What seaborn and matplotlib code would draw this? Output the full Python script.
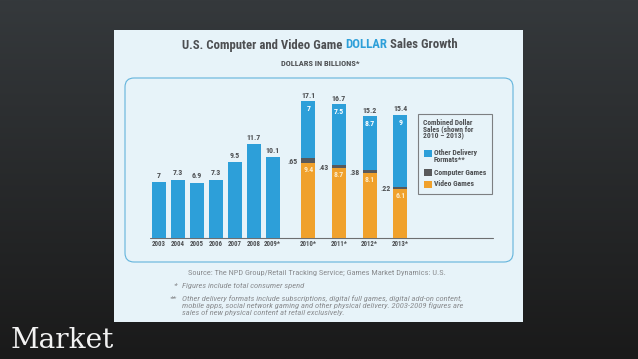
import numpy as np
import seaborn as sns
import matplotlib.pyplot as plt
from matplotlib.patches import Rectangle, FancyBboxPatch
from matplotlib.colors import LinearSegmentedColormap

# physical sales at retail, 2003-2009 (billions $)
years1 = ["2003", "2004", "2005", "2006", "2007", "2008", "2009*"]
sales1 = [7, 7.3, 6.9, 7.3, 9.5, 11.7, 10.1]

# combined sales 2010-2013
years2 = ["2010*", "2011*", "2012*", "2013*"]
video = [9.4, 8.7, 8.1, 6.1]
computer = [0.65, 0.43, 0.38, 0.22]
other = [7, 7.5, 8.7, 9]
totals = [17.1, 16.7, 15.2, 15.4]

BLUE = "#2d9fd9"
ORANGE = "#f0a12c"
GRAY = "#58595b"
TXT = "#4d4f52"
W, H = 638, 359

sns.set_theme(style="white")
cond = ["Roboto Condensed", "DejaVu Sans Condensed", "Liberation Sans Narrow", "Roboto", "DejaVu Sans"]
plt.rcParams["font.family"] = cond

fig = plt.figure(figsize=(W / 100, H / 100), dpi=100)
fig.patch.set_facecolor("#202020")
fig.canvas.draw()
r = fig.canvas.get_renderer()


def fit(t, width):
    # scale a text so it spans the given pixel width
    w = t.get_window_extent(r).width
    t.set_fontsize(t.get_fontsize() * width / w)
    return t


# background axes in pixel coords
bg = fig.add_axes([0, 0, 1, 1])
grad = np.linspace(0, 1, 256).reshape(-1, 1)
cmap = LinearSegmentedColormap.from_list("bgc", ["#35393c", "#1a1a1a"])
bg.imshow(grad, extent=[0, W, H, 0], cmap=cmap, aspect="auto", zorder=0)
bg.set_xlim(0, W)
bg.set_ylim(H, 0)
bg.axis("off")

bg.add_patch(Rectangle((114, 30), 409, 292, fc="#e7f3f9", ec="none", zorder=1))
bg.add_patch(FancyBboxPatch((125, 78), 388, 184, boxstyle="round,pad=0,rounding_size=9",
                            fc="none", ec="#62b4dc", lw=0.8, zorder=2))
bg.plot([150, 493], [238, 238], color="#6d6e70", lw=0.8, zorder=3)

# title in three pieces, sized to span the reference width
parts = [("U.S. Computer and Video Game ", TXT), ("DOLLAR", BLUE), (" Sales Growth", TXT)]
probe = fit(bg.text(0, 0, "".join(p for p, _ in parts), fontsize=12, fontweight="bold"), 275)
tsize = probe.get_fontsize()
probe.remove()
x = 182
for part, col in parts:
    t = bg.text(x, 45, part, color=col, fontsize=tsize, fontweight="bold", va="center",
                ha="left", zorder=4)
    x += t.get_window_extent(r).width
fit(bg.text(320, 63, "DOLLARS IN BILLIONS*", color=TXT, fontsize=5.5, fontweight="bold",
            ha="center", va="center", zorder=4), 78)


def px_axes(left, right, top=94, bottom=238):
    a = fig.add_axes([left / W, 1 - bottom / H, (right - left) / W, (bottom - top) / H])
    a.set_facecolor("none")
    return a


ax1 = px_axes(149.75, 282.05)
ax2 = px_axes(292.95, 415.75)

sns.barplot(x=years1, y=sales1, color=BLUE, saturation=1, width=0.74, linewidth=0,
            errorbar=None, ax=ax1)
# stacked: draw cumulative from back to front
sns.barplot(x=years2, y=totals, color=BLUE, saturation=1, width=0.456, linewidth=0,
            errorbar=None, ax=ax2)
sns.barplot(x=years2, y=np.add(video, computer), color=GRAY, saturation=1, width=0.456,
            linewidth=0, errorbar=None, ax=ax2)
sns.barplot(x=years2, y=video, color=ORANGE, saturation=1, width=0.456, linewidth=0,
            errorbar=None, ax=ax2)

LS = 5.7
for a in (ax1, ax2):
    a.set_ylim(0, 18)
    a.set_yticks([])
    a.set_xlabel("")
    a.set_ylabel("")
    sns.despine(ax=a, left=True, bottom=True)
    a.tick_params(axis="x", length=0, pad=1.3, labelsize=4.9, labelcolor=TXT)
    for lab in a.get_xticklabels():
        lab.set_fontweight("bold")

for i, v in enumerate(sales1):
    ax1.text(i, v + 0.85, f"{v:g}", ha="center", va="center", fontsize=LS,
             fontweight="bold", color=TXT)

for i in range(len(years2)):
    ax2.text(i, totals[i] + 0.75, f"{totals[i]:g}", ha="center", va="center", fontsize=LS,
             fontweight="bold", color=TXT)
    ax2.text(i, totals[i] - 0.95, f"{other[i]:g}", ha="center", va="center", fontsize=LS,
             fontweight="bold", color="white")
    ax2.text(i, video[i] - 0.8, f"{video[i]:g}", ha="center", va="center", fontsize=LS,
             fontweight="bold", color="#fcebc9")
    ax2.text(i - 0.33, video[i] + 0.1, f"{computer[i]:g}".lstrip("0"), ha="right",
             va="center", fontsize=LS, fontweight="bold", color=TXT)

# legend box
bg.add_patch(Rectangle((418, 114), 74, 80, fc="none", ec="#7d7f82", lw=0.8, zorder=4))
hdr = []
for yy, s in [(122.5, "Combined Dollar"), (129.5, "Sales (shown for"), (136.5, "2010 \u2013 2013)")]:
    hdr.append(bg.text(423, yy, s, color=TXT, fontsize=5.3, fontweight="bold", va="center", zorder=5))
fit(hdr[0], 50)
for t in hdr[1:]:
    t.set_fontsize(hdr[0].get_fontsize())
items = []
for y0, col, lines in [(150, BLUE, ["Other Delivery", "Formats**"]),
                       (169, GRAY, ["Computer Games"]),
                       (181, ORANGE, ["Video Games"])]:
    bg.add_patch(Rectangle((423.5, y0), 8, 6.7, fc=col, ec="none", zorder=5))
    for k, s in enumerate(lines):
        items.append(bg.text(434, y0 + 3 + 7 * k, s, color=TXT, fontsize=5.3,
                             fontweight="bold", va="center", zorder=5))
fit(items[2], 52.5)
for t in items:
    t.set_fontsize(items[2].get_fontsize())

# source and footnotes
note = "#8a8c8f"
fit(bg.text(317, 273, "Source: The NPD Group/Retail Tracking Service; Games Market Dynamics: U.S.",
            color=note, fontsize=5, ha="center", va="center", zorder=4), 263)
foot = ("Other delivery formats include subscriptions, digital full games, digital add-on content,\n"
        "mobile apps, social network gaming and other physical delivery. 2003-2009 figures are\n"
        "sales of new physical content at retail exclusively.")
ft = fit(bg.text(182, 295.5, foot, color=note, fontsize=5, style="italic", va="top", ha="left",
                 linespacing=1.05, zorder=4), 281)
fs = ft.get_fontsize()
bg.text(182, 286, "Figures include total consumer spend", color=note, fontsize=fs,
        style="italic", va="center", zorder=4)
bg.text(177, 286, "*", color=note, fontsize=fs, style="italic", va="center", ha="right", zorder=4)
bg.text(177, 299, "**", color=note, fontsize=fs, style="italic", va="center", ha="right", zorder=4)

fit(bg.text(11, 340, "Market", color="#f2f2f2", fontsize=18, family="DejaVu Serif",
            va="center", ha="left", zorder=4), 104)

fig.savefig("out.png", dpi=100, facecolor=fig.get_facecolor())
